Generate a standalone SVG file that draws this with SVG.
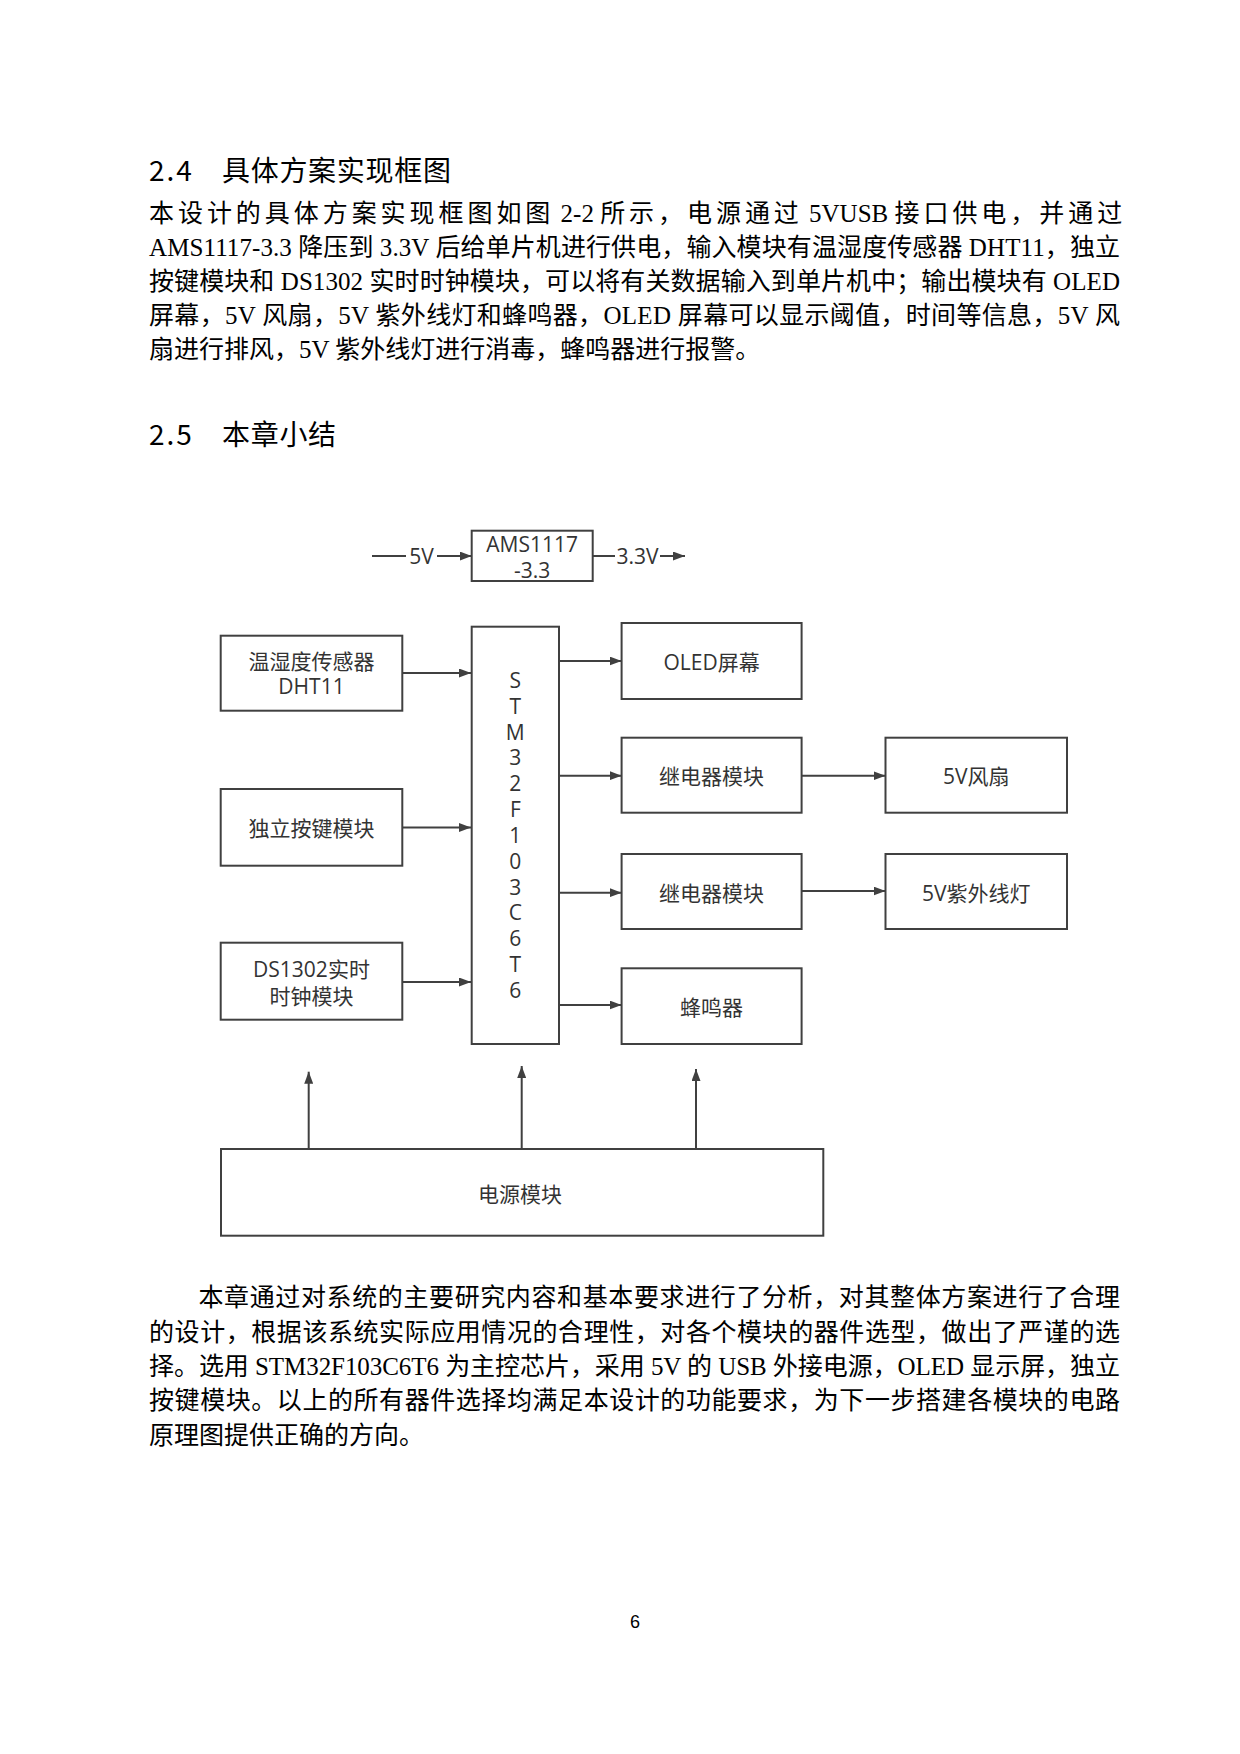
<svg xmlns="http://www.w3.org/2000/svg" width="1240" height="1754" viewBox="0 0 1240 1754">
<style>
.h{font-family:"Noto Sans CJK SC","Noto Sans",sans-serif;font-size:28px;fill:#000;letter-spacing:0.7px}
.b{font-family:"Liberation Serif","Noto Sans CJK SC",serif;font-size:25px;fill:#000}
.sp{letter-spacing:3.95px}
.box{fill:#fff;stroke:#404040;stroke-width:2}
.t{font-family:"Open Sans","Noto Sans CJK SC",sans-serif;font-size:21px;fill:#333;text-anchor:middle;dominant-baseline:central}
.c{stroke:#404040;stroke-width:2;fill:none}
.pg{font-family:"Liberation Sans",sans-serif;font-size:18px;fill:#000;text-anchor:middle}
</style>
<defs>
<marker id="arr" viewBox="0 0 12 9" refX="12" refY="4.5" markerWidth="12" markerHeight="9" markerUnits="userSpaceOnUse" orient="auto">
<path d="M0,0 L12,4.5 L0,9 z" fill="#404040"/>
</marker>
</defs>
<rect width="1240" height="1754" fill="#fff"/>

<g id="text-top">
<text class="h" x="149" y="181" style="letter-spacing:2px">2.4</text>
<text class="h" x="222" y="181">具体方案实现框图</text>
<text class="b" x="149" y="222"><tspan class="sp">本设计的具体方案实现框图如图</tspan> 2-2 <tspan class="sp">所示，电源通过</tspan> 5VUSB <tspan class="sp">接口供电，并通过</tspan></text>
<text class="b" x="149" y="256" textLength="971" lengthAdjust="spacing">AMS1117-3.3 降压到 3.3V 后给单片机进行供电，输入模块有温湿度传感器 DHT11，独立</text>
<text class="b" x="149" y="290" textLength="971" lengthAdjust="spacing">按键模块和 DS1302 实时时钟模块，可以将有关数据输入到单片机中；输出模块有 OLED</text>
<text class="b" x="149" y="324" textLength="971" lengthAdjust="spacing">屏幕，5V 风扇，5V 紫外线灯和蜂鸣器，OLED 屏幕可以显示阈值，时间等信息，5V 风</text>
<text class="b" x="149" y="358">扇进行排风，5V 紫外线灯进行消毒，蜂鸣器进行报警。</text>
<text class="h" x="149" y="445" style="letter-spacing:2px">2.5</text>
<text class="h" x="222" y="445">本章小结</text>
</g>

<g id="connectors">
<line class="c" x1="372" y1="556" x2="406" y2="556"/>
<line class="c" x1="437" y1="556" x2="471.7" y2="556" marker-end="url(#arr)"/>
<line class="c" x1="592.7" y1="556" x2="615" y2="556"/>
<line class="c" x1="660" y1="556" x2="685" y2="556" marker-end="url(#arr)"/>
<line class="c" x1="402" y1="673" x2="471" y2="673" marker-end="url(#arr)"/>
<line class="c" x1="402" y1="827.5" x2="471" y2="827.5" marker-end="url(#arr)"/>
<line class="c" x1="402" y1="982" x2="471" y2="982" marker-end="url(#arr)"/>
<line class="c" x1="559" y1="661" x2="621.6" y2="661" marker-end="url(#arr)"/>
<line class="c" x1="559" y1="775.7" x2="621.6" y2="775.7" marker-end="url(#arr)"/>
<line class="c" x1="559" y1="892.7" x2="621.6" y2="892.7" marker-end="url(#arr)"/>
<line class="c" x1="559" y1="1005" x2="621.6" y2="1005" marker-end="url(#arr)"/>
<line class="c" x1="801.5" y1="775.7" x2="885.5" y2="775.7" marker-end="url(#arr)"/>
<line class="c" x1="801.5" y1="891" x2="885.5" y2="891" marker-end="url(#arr)"/>
<line class="c" x1="308.7" y1="1149" x2="308.7" y2="1071.7" marker-end="url(#arr)"/>
<line class="c" x1="521.7" y1="1149" x2="521.7" y2="1066" marker-end="url(#arr)"/>
<line class="c" x1="696" y1="1149" x2="696" y2="1069" marker-end="url(#arr)"/>
<text class="t" x="421.5" y="556">5V</text>
<text class="t" x="637.5" y="556">3.3V</text>
</g>

<g id="ams">
<rect class="box" x="471.7" y="530.7" width="121" height="50.3"/>
<text class="t" x="532.2" y="543.5">AMS1117</text>
<text class="t" x="532.2" y="569.5">-3.3</text>
</g>

<g id="dht11">
<rect class="box" x="220.7" y="635.7" width="181.6" height="75"/>
<text class="t" x="311.5" y="661">温湿度传感器</text>
<text class="t" x="311.5" y="685.7">DHT11</text>
</g>

<g id="keys">
<rect class="box" x="220.7" y="789" width="181.6" height="76.7"/>
<text class="t" x="311.5" y="828.3">独立按键模块</text>
</g>

<g id="ds1302">
<rect class="box" x="220.7" y="942.7" width="181.6" height="77"/>
<text class="t" x="311.5" y="969.3">DS1302实时</text>
<text class="t" x="311.5" y="996">时钟模块</text>
</g>

<g id="stm32">
<rect class="box" x="471.7" y="626.7" width="87.3" height="417.3"/>
<text class="t" x="515.3" y="680">S<tspan x="515.3" dy="25.83">T</tspan><tspan x="515.3" dy="25.83">M</tspan><tspan x="515.3" dy="25.83">3</tspan><tspan x="515.3" dy="25.83">2</tspan><tspan x="515.3" dy="25.83">F</tspan><tspan x="515.3" dy="25.83">1</tspan><tspan x="515.3" dy="25.83">0</tspan><tspan x="515.3" dy="25.83">3</tspan><tspan x="515.3" dy="25.83">C</tspan><tspan x="515.3" dy="25.83">6</tspan><tspan x="515.3" dy="25.83">T</tspan><tspan x="515.3" dy="25.83">6</tspan></text>
</g>

<g id="oled">
<rect class="box" x="621.6" y="623" width="180" height="76"/>
<text class="t" x="711.6" y="661.7">OLED屏幕</text>
</g>

<g id="relay1">
<rect class="box" x="621.6" y="737.7" width="180" height="75"/>
<text class="t" x="711.6" y="776">继电器模块</text>
</g>

<g id="relay2">
<rect class="box" x="621.6" y="854" width="180" height="75"/>
<text class="t" x="711.6" y="892.7">继电器模块</text>
</g>

<g id="buzzer">
<rect class="box" x="621.6" y="968.3" width="180" height="75.7"/>
<text class="t" x="711.6" y="1006.7">蜂鸣器</text>
</g>

<g id="fan">
<rect class="box" x="885.5" y="737.7" width="181.5" height="75"/>
<text class="t" x="976.2" y="776">5V风扇</text>
</g>

<g id="uv">
<rect class="box" x="885.5" y="854" width="181.5" height="75"/>
<text class="t" x="976.2" y="892.7">5V紫外线灯</text>
</g>

<g id="power">
<rect class="box" x="221" y="1149" width="602.3" height="86.7"/>
<text class="t" x="520" y="1194">电源模块</text>
</g>

<g id="text-bottom">
<text class="b" x="198.5" y="1306" textLength="921.5" lengthAdjust="spacing">本章通过对系统的主要研究内容和基本要求进行了分析，对其整体方案进行了合理</text>
<text class="b" x="149" y="1340.5" textLength="971" lengthAdjust="spacing">的设计，根据该系统实际应用情况的合理性，对各个模块的器件选型，做出了严谨的选</text>
<text class="b" x="149" y="1375" textLength="971" lengthAdjust="spacing">择。选用 STM32F103C6T6 为主控芯片，采用 5V 的 USB 外接电源，OLED 显示屏，独立</text>
<text class="b" x="149" y="1409" textLength="971" lengthAdjust="spacing">按键模块。以上的所有器件选择均满足本设计的功能要求，为下一步搭建各模块的电路</text>
<text class="b" x="149" y="1443.5">原理图提供正确的方向。</text>
<text class="pg" x="635" y="1628">6</text>
</g>
</svg>
